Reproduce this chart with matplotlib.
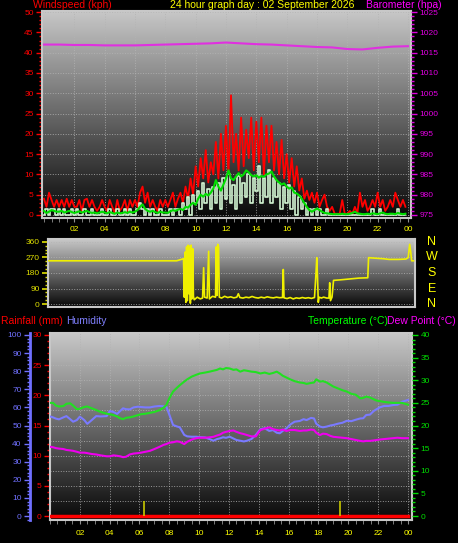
import numpy as np
import matplotlib.pyplot as plt
from matplotlib.colors import LinearSegmentedColormap
from matplotlib.ticker import MultipleLocator

plt.rcParams['font.family'] = ['Liberation Sans', 'DejaVu Sans']

# ---------------- DATA ----------------
hour_ticks = [2, 4, 6, 8, 10, 12, 14, 16, 18, 20, 22, 24]
hour_labels = ['02', '04', '06', '08', '10', '12', '14', '16', '18', '20', '22', '00']

# wind, 10 minute readings (kph)
wind_time = np.arange(144) / 6.0
wind_gust = [4, 2, 5.5, 3.7, 2, 3.7,   2, 3.7, 2, 4, 2, 3.7,   2, 2, 3.7, 1, 3.7, 4,
             2, 3.7, 2, 1, 2, 3.7,     2, 1, 3.7, 2, 0.5, 3.7, 1, 2, 3.7, 1, 3.7, 2,
             3.7, 2, 5.5, 7, 3, 5.5,   2, 3.7, 2, 1, 3.7, 2,   3.7, 2, 3.7, 5.5, 2, 4,
             5.5, 3, 7, 4, 9, 5,       12, 7, 14, 9, 16, 8,    13, 10, 18, 9, 20, 11,
             22, 10, 29.5, 13, 20, 11, 24, 12, 21, 14, 24, 11, 23, 13, 24, 10, 22, 13,
             22, 11, 18, 10, 18.5, 9,  15, 8, 14, 7, 12, 6,    9, 4, 6, 3.7, 5.5, 3,
             5.5, 2, 3.7, 5, 2, 1,     2, 0.3, 0.3, 0.3, 3.7, 0.3, 0.3, 1, 0.3, 2, 0.5, 5.5,
             2, 3.7, 1, 2, 3.7, 2,     5.5, 2, 3.7, 1, 2, 3.7, 2, 5.5, 3.7, 2, 3.7, 2]
wind_speed = [0, 1.5, 0, 1.5, 1.5, 0,  1.5, 0, 1.5, 0, 0, 1.5,  0, 1.5, 0, 0, 1.5, 0,
              0, 1.5, 0, 0, 0, 1.5,    0, 0, 1.5, 0, 0, 1.5,    0, 0, 1.5, 0, 1.5, 0,
              0, 1.5, 3, 1.5, 0, 1.5,  0, 1.5, 0, 0, 1.5, 0,    0, 0, 1.5, 0, 1.5, 1.5,
              0, 3, 1.5, 4.5, 0, 5,    3, 6, 1.5, 8, 3, 6.5,    1.5, 7, 3, 8, 1.5, 9,
              4, 10, 3, 7.5, 1.5, 9.5, 3, 8, 4.5, 10, 3, 9,     6, 12, 3, 9, 4.5, 11,
              3, 9, 4.5, 8, 1.5, 7,    3, 7.5, 1.5, 6, 0, 4.5,  1.5, 3, 0, 1.5, 0, 1.5,
              0, 1.5, 0, 0, 1.5, 0,    0, 0, 0, 0, 0, 0,        0, 0, 0, 0, 0, 0,
              0, 0, 0, 0, 1.5, 0,      0, 1.5, 0, 0, 0, 0,      0, 0, 1.5, 0, 0, 0]
wind_avg = [1, 0.5, 0.8, 1.2, 1, 0.8,      0.8, 1, 0.6, 0.8, 1, 0.7,    0.5, 0.7, 0.9, 0.6, 0.8, 1,
            0.7, 0.5, 0.6, 0.4, 0.6, 0.8,  0.6, 0.4, 0.7, 0.5, 0.3, 0.6, 0.4, 0.5, 0.7, 0.5, 0.8, 0.6,
            0.8, 1.2, 2, 2.6, 1.5, 1,      0.8, 1, 0.7, 0.5, 0.8, 0.6,  0.6, 0.5, 0.9, 1.2, 1, 1.3,
            1.5, 1.2, 2, 1.8, 2.5, 3,      2.5, 4, 5, 4.5, 5.2, 4.8,    5.5, 6.5, 8.6, 7, 6, 7.5,
            9, 11, 9, 8.6, 9.5, 10.3,      9.5, 10, 11, 10.5, 9.8, 9.5, 9.8, 9.2, 9.6, 9.4, 10, 10.2,
            10.7, 9.5, 8.6, 8, 7.5, 7.8,   7, 6.5, 6.8, 5.5, 5.3, 4.8,  4, 2.9, 2, 1.2, 0.8, 1.2,
            1.6, 1.2, 0.8, 0.5, 0.4, 0.3,  0.2, 0.2, 0.2, 0.2, 0.3, 0.2, 0.2, 0.3, 0.5, 0.8, 0.4, 0.3,
            0.2, 0.2, 0.3, 0.2, 0.4, 0.3,  0.2, 0.4, 0.6, 0.3, 0.2, 0.3, 0.3, 0.2, 0.5, 0.3, 0.2, 0.3]

# barometer, hourly (hpa)
baro_time = np.arange(25)
baro = [1017.0, 1017.0, 1016.9, 1016.9, 1016.8, 1016.8, 1016.8, 1016.9, 1017.0, 1017.1,
        1017.2, 1017.3, 1017.5, 1017.3, 1017.1, 1017.0, 1016.8, 1016.6, 1016.4, 1016.3,
        1015.9, 1015.8, 1016.2, 1016.5, 1016.6]

# wind direction (degrees)
dir_time = [0.0, 8.45, 8.75, 8.9, 8.95, 9.0, 9.05, 9.1, 9.15, 9.2, 9.25, 9.3, 9.35, 9.4, 9.45,
            9.5, 9.55, 9.6, 9.8, 10.0, 10.15, 10.22, 10.28, 10.45, 10.55, 10.6, 10.8, 11.0,
            11.05, 11.1, 11.15, 11.2, 11.25, 11.4, 11.6, 11.8, 12.0, 12.2, 12.4, 12.5, 12.6,
            12.8, 13.0, 13.2, 13.4, 13.6, 13.8, 14.0, 14.2, 14.4, 14.6, 14.8, 15.0, 15.2,
            15.4, 15.45, 15.5, 15.7, 15.9, 16.1, 16.3, 16.5, 16.7, 16.9, 17.1, 17.3, 17.5,
            17.6, 17.65, 17.7, 17.75, 17.8, 17.95, 18.1, 18.3, 18.45, 18.5, 18.55, 18.65,
            18.75, 19.2, 19.8, 20.4, 21.0, 21.05, 21.5, 22.0, 22.4, 23.0, 23.5, 23.65, 23.75,
            23.82, 23.88, 24.0]
dir_deg = [250, 250, 258, 262, 40, 300, 10, 330, 20, 340, 60, 335, 5, 340, 30,
           320, 45, 25, 40, 30, 35, 210, 40, 35, 305, 30, 45, 40,
           330, 50, 345, 330, 40, 35, 45, 38, 42, 36, 40, 60, 38,
           35, 40, 37, 44, 38, 35, 40, 36, 42, 38, 36, 40, 37,
           38, 200, 36, 32, 38, 30, 36, 33, 38, 34, 37, 33, 38,
           180, 268, 150, 10, 40, 35, 40, 35, 35, 123, 20, 40,
           137, 140, 145, 150, 152, 268, 265, 262, 258, 258, 260, 268, 345,
           300, 250, 250]

# temperature / humidity / dew point
lower_time = [0.0, 0.2, 0.4, 0.6, 0.9, 1.1, 1.35, 1.55, 1.8, 2.0, 2.3, 2.5, 2.8, 3.1, 3.4, 3.8,
              4.0, 4.25, 4.5, 4.7, 4.9, 5.1, 5.35, 5.6, 5.9, 6.1, 6.4, 6.7, 7.0, 7.35, 7.6, 7.8,
              8.0, 8.25, 8.5, 8.7, 9.0, 9.2, 9.5, 9.8, 10.05, 10.4, 10.7, 10.95, 11.2, 11.4, 11.6,
              11.8, 12.05, 12.3, 12.5, 12.75, 13.0, 13.2, 13.5, 13.8, 14.1, 14.4, 14.7, 14.95,
              15.2, 15.4, 15.6, 15.85, 16.1, 16.4, 16.75, 17.0, 17.2, 17.5, 17.7, 17.85, 18.1,
              18.3, 18.55, 18.8, 19.0, 19.3, 19.6, 19.9, 20.2, 20.5, 20.8, 21.0, 21.2, 21.45,
              21.7, 21.9, 22.1, 22.4, 22.7, 23.0, 23.3, 23.6, 24.0]
temperature = [25.0, 25.0, 24.4, 24.2, 24.3, 24.8, 24.9, 24.4, 23.6, 23.7, 24.1, 24.2, 23.8, 23.4,
               23.0, 22.6, 22.5, 22.3, 22.0, 21.6, 21.4, 21.7, 21.8, 22.0, 22.3, 22.5, 22.6, 22.8,
               23.0, 23.4, 23.9, 24.5, 26.0, 27.5, 28.3, 28.9, 29.7, 30.2, 30.8, 31.2, 31.5, 31.7,
               31.9, 32.1, 32.3, 32.6, 32.4, 32.7, 32.6, 32.3, 32.4, 31.9, 32.2, 32.1, 31.9, 31.8,
               31.5, 31.7, 31.4, 31.6, 31.9, 31.5, 31.0, 30.6, 30.2, 29.8, 29.5, 29.4, 29.2, 29.4,
               29.5, 30.2, 29.7, 29.8, 29.5, 29.0, 28.6, 28.2, 27.8, 27.5, 27.0, 26.8, 26.0, 26.1,
               26.4, 26.2, 25.8, 25.5, 25.4, 25.2, 25.1, 25.0, 25.0, 25.0, 24.6]
humidity = [55.0, 54.5, 53.8, 53.4, 54.5, 55.2, 53.5, 52.1, 53.0, 54.9, 53.0, 50.9, 53.0, 55.2,
            55.0, 55.2, 58.0, 57.5, 56.4, 58.0, 59.5, 59.0, 58.9, 60.0, 60.4, 60.2, 60.0, 60.0,
            60.5, 60.8, 60.6, 60.4, 56.0, 50.3, 49.5, 49.0, 44.8, 44.0, 43.8, 43.8, 43.6, 43.4,
            42.5, 41.6, 42.5, 42.9, 43.5, 43.2, 43.8, 42.8, 42.0, 41.6, 41.2, 41.6, 42.5, 44.8,
            47.9, 48.5, 47.0, 47.5, 46.0, 45.7, 47.0, 48.4, 50.5, 52.1, 52.5, 53.5, 53.0, 54.2,
            53.9, 51.0, 49.4, 49.0, 49.4, 50.0, 50.3, 51.0, 51.5, 52.6, 52.4, 53.2, 53.9, 54.0,
            55.8, 56.0, 58.0, 59.0, 60.0, 60.8, 60.8, 61.3, 61.5, 63.1, 64.1]
dew_point = [15.3, 15.2, 15.0, 14.9, 14.8, 14.6, 14.5, 14.4, 14.2, 14.0, 14.0, 13.9, 13.7, 13.6,
             13.4, 13.2, 13.2, 13.4, 13.3, 13.2, 13.0, 13.1, 13.6, 13.8, 13.9, 14.0, 14.2, 14.4,
             14.8, 15.3, 15.7, 15.9, 16.2, 16.3, 16.5, 16.4, 15.9, 16.4, 16.9, 17.2, 17.3, 17.3,
             17.4, 17.5, 17.8, 18.0, 18.4, 18.6, 18.8, 18.9, 18.6, 18.3, 18.1, 17.9, 17.6, 17.6,
             19.0, 19.3, 19.6, 19.2, 19.0, 18.9, 19.1, 18.8, 19.0, 19.0, 18.8, 18.9, 18.9, 19.1,
             19.0, 18.4, 17.9, 18.2, 18.1, 17.7, 17.5, 17.4, 17.3, 17.2, 17.0, 16.8, 16.6, 16.5,
             16.6, 16.6, 16.7, 16.8, 16.9, 17.0, 17.1, 17.2, 17.3, 17.2, 17.2]
rain_time = [0, 24]
rainfall = [0, 0]
mark_time = [6.3, 19.45]
mark_val = [3.3, 3.3]

# ---------------- FIGURE ----------------
W, H = 458, 543
fig = plt.figure(figsize=(W / 100, H / 100), dpi=100, facecolor='black')

def px_axes(l, t, r, b):
    return fig.add_axes([l / W, 1 - b / H, (r - l) / W, (b - t) / H])

grey = LinearSegmentedColormap.from_list('bg', ['#080808', '#c8c8c8'])

def shade(ax, xl, yl):
    ax.imshow(np.linspace(1, 0, 256)[:, None], cmap=grey, vmin=0, vmax=1, aspect='auto',
              extent=[xl[0], xl[1], yl[0], yl[1]], zorder=0, interpolation='bilinear')
    ax.set_xlim(xl)
    ax.set_ylim(yl)

def frame(ax):
    for s in ax.spines.values():
        s.set_color('#c8c8c8')
        s.set_linewidth(1.5)

GRID = dict(color='#b4b4b4', ls=':', lw=0.7, alpha=0.8)

# ---- top panel: wind speed + barometer ----
ax1 = px_axes(42, 10.5, 411, 218)
xl1, yl1 = (-0.13, 24.2), (-0.75, 50.4)
shade(ax1, xl1, yl1)
ax1.plot(wind_time, wind_gust, color='#ff0000', lw=1.3, zorder=3)
ax1.plot(wind_time, wind_speed, color='#d2f5d2', lw=1.2, drawstyle='steps-mid', zorder=4)
ax1.plot(wind_time, wind_avg, color='#00dd00', lw=1.5, zorder=5)
ax1.set_yticks(range(0, 51, 5))
ax1.yaxis.set_minor_locator(MultipleLocator(1))
ax1.tick_params(axis='y', which='both', colors='#ff0000', labelsize=6, pad=2)
ax1.tick_params(axis='y', which='major', length=4, width=1)
ax1.tick_params(axis='y', which='minor', length=2, width=1)
ax1.set_xticks(hour_ticks)
ax1.set_xticklabels(hour_labels)
ax1.xaxis.set_minor_locator(MultipleLocator(0.5))
ax1.tick_params(axis='x', which='both', colors='#909090', labelcolor='#ffff00',
                labelsize=6, length=3, pad=3)
ax1.grid(**GRID)
frame(ax1)

ax1b = ax1.twinx()
ax1b.set_ylim(974.25, 1025.4)
ax1b.plot(baro_time, baro, color='#e030e0', lw=1.5, zorder=5)
ax1b.set_yticks(range(975, 1026, 5))
ax1b.yaxis.set_minor_locator(MultipleLocator(1))
ax1b.tick_params(axis='y', which='both', colors='#e000e0', labelsize=6, pad=2)
ax1b.tick_params(axis='y', which='major', length=4, width=1)
ax1b.tick_params(axis='y', which='minor', length=2, width=1)
for s in ax1b.spines.values():
    s.set_visible(False)

# ---- wind direction panel ----
ax2 = px_axes(48, 239.3, 415, 306.7)
xl2, yl2 = (0, 24.1), (-15, 374)
shade(ax2, xl2, yl2)
ax2.plot(dir_time, dir_deg, color='#f0f000', lw=1.2, zorder=3)
ax2.set_yticks([0, 90, 180, 270, 360])
ax2.yaxis.set_minor_locator(MultipleLocator(22.5))
ax2.tick_params(axis='y', which='both', colors='#e0e000', labelsize=6, pad=2)
ax2.tick_params(axis='y', which='major', length=4, width=1.2)
ax2.tick_params(axis='y', which='minor', length=2, width=1)
ax2.set_xticks([])
ax2.grid(axis='y', **GRID)
frame(ax2)
for lab, deg in zip(['N', 'W', 'S', 'E', 'N'], [360, 270, 180, 90, 0]):
    ax2.text(1.046, deg, lab, transform=ax2.get_yaxis_transform(), color='#ffff00',
             fontsize=9, ha='center', va='center')

# ---- lower panel: rain / humidity / temperature ----
ax3 = px_axes(50, 333, 412, 520)
xl3, yl3 = (0, 24.27), (-0.66, 30.33)
shade(ax3, xl3, yl3)
ax3.plot(rain_time, rainfall, color='#ff0000', lw=2.5, zorder=6)
ax3.set_yticks(range(0, 31, 5))
ax3.yaxis.set_minor_locator(MultipleLocator(1))
ax3.tick_params(axis='y', which='both', colors='#ff0000', labelsize=6, pad=2)
ax3.tick_params(axis='y', which='major', length=4, width=1)
ax3.tick_params(axis='y', which='minor', length=2, width=1)
ax3.set_xticks(hour_ticks)
ax3.set_xticklabels(hour_labels)
ax3.xaxis.set_minor_locator(MultipleLocator(0.5))
ax3.tick_params(axis='x', which='both', colors='#909090', labelcolor='#ffff00',
                labelsize=6, length=3, pad=4)
ax3.grid(axis='x', **GRID)
for yv in np.arange(2.5, 30, 2.5):
    ax3.axhline(yv, zorder=1, **GRID)
frame(ax3)

ax_h = ax3.twinx()
ax_h.set_ylim(-2.2, 101.1)
ax_h.yaxis.set_ticks_position('left')
ax_h.spines['left'].set_position(('outward', 14.4))
ax_h.spines['left'].set_visible(True)
ax_h.spines['left'].set_color('#7070ff')
ax_h.spines['left'].set_linewidth(2)
for k in ['right', 'top', 'bottom']:
    ax_h.spines[k].set_visible(False)
ax_h.plot(lower_time, humidity, color='#7a7aff', lw=1.5, zorder=4)
ax_h.set_yticks(range(0, 101, 10))
ax_h.yaxis.set_minor_locator(MultipleLocator(2))
ax_h.tick_params(axis='y', which='both', colors='#7070ff', labelsize=6, pad=2)
ax_h.tick_params(axis='y', which='major', length=4, width=1)
ax_h.tick_params(axis='y', which='minor', length=2, width=1)

ax_t = ax3.twinx()
ax_t.set_ylim(-0.88, 40.44)
for s in ax_t.spines.values():
    s.set_visible(False)
ax_t.vlines(mark_time, 0, mark_val, color='#c8c800', lw=1.2, zorder=3)
ax_t.plot(lower_time, dew_point, color='#ee00ee', lw=1.5, zorder=4)
ax_t.plot(lower_time, temperature, color='#22e022', lw=1.5, zorder=5)
ax_t.set_yticks(range(0, 41, 5))
ax_t.yaxis.set_minor_locator(MultipleLocator(1))
ax_t.tick_params(axis='y', which='both', colors='#00dd00', labelsize=6, pad=2)
ax_t.tick_params(axis='y', which='major', length=4, width=1)
ax_t.tick_params(axis='y', which='minor', length=2, width=1)

# ---- titles ----
def label(x, y, s, c):
    fig.text(x / W, 1 - y / H, s, color=c, fontsize=7.5, va='center', ha='left')

label(33, 5, 'Windspeed (kph)', '#ff0000')
label(170, 5, '24 hour graph day : 02 September 2026', '#ffff00')
label(366, 5, 'Barometer (hpa)', '#ff00ff')
label(1, 321, 'Rainfall (mm)', '#ff0000')
label(66, 321, 'Humidity', '#8080ff')
label(308, 321, 'Temperature (\u00b0C)', '#00ff00')
label(387, 321, 'Dew Point (\u00b0C)', '#ff00ff')

fig.savefig('out.png', dpi=100, facecolor='black')
